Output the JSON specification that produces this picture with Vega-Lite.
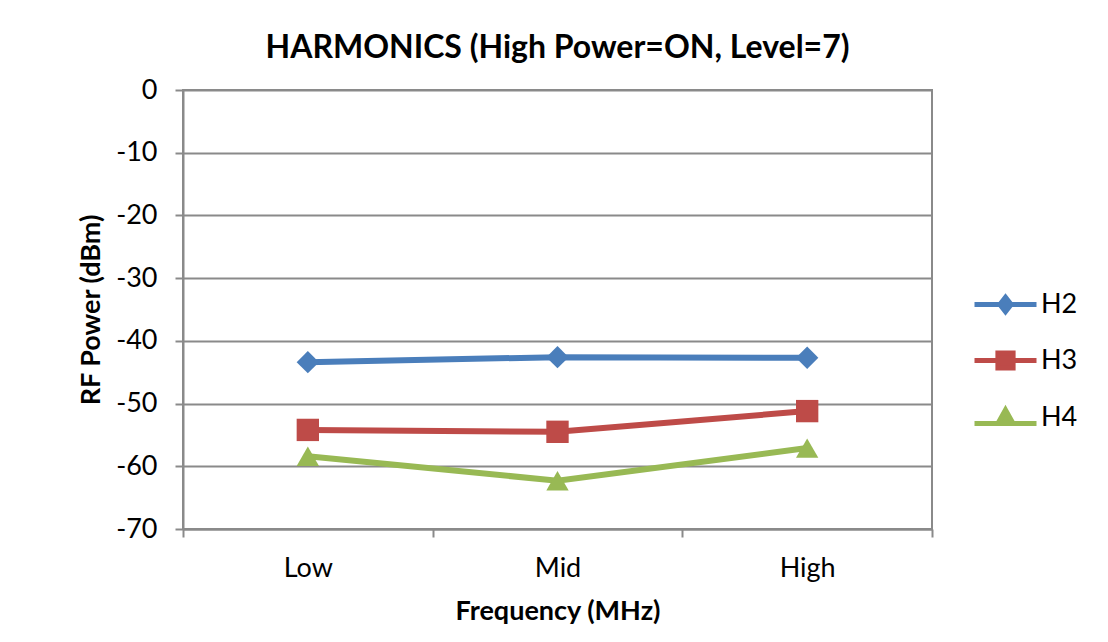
{
  "$schema": "https://vega.github.io/schema/vega-lite/v6.json",
  "width": 749,
  "height": 439,
  "autosize": {"type": "none"},
  "padding": {"left": 183, "top": 90, "right": 176, "bottom": 113},
  "background": "white",
  "title": {
    "text": "HARMONICS (High Power=ON, Level=7)",
    "anchor": "middle",
    "font": "Lato",
    "fontSize": 32,
    "fontWeight": "bold",
    "color": "#000000",
    "offset": 11
  },
  "config": {
    "font": "Lato",
    "view": {"stroke": "#8a8a8a", "strokeWidth": 2},
    "axis": {
      "labelFont": "Lato",
      "labelFontSize": 27,
      "labelColor": "#000000",
      "titleFont": "Lato",
      "titleFontSize": 27,
      "titleFontWeight": "bold",
      "titleColor": "#000000",
      "domainColor": "#8a8a8a",
      "domainWidth": 2,
      "tickColor": "#8a8a8a",
      "tickWidth": 2,
      "tickSize": 8,
      "gridColor": "#8a8a8a",
      "gridWidth": 2
    }
  },
  "data": {
    "values": [
      {"freq": "Low", "series": "H2", "power": -43.4},
      {"freq": "Mid", "series": "H2", "power": -42.6},
      {"freq": "High", "series": "H2", "power": -42.7},
      {"freq": "Low", "series": "H3", "power": -54.2},
      {"freq": "Mid", "series": "H3", "power": -54.5},
      {"freq": "High", "series": "H3", "power": -51.2},
      {"freq": "Low", "series": "H4", "power": -58.4},
      {"freq": "Mid", "series": "H4", "power": -62.3},
      {"freq": "High", "series": "H4", "power": -57.1}
    ]
  },
  "encoding": {
    "x": {
      "field": "freq",
      "type": "nominal",
      "sort": ["Low", "Mid", "High"],
      "bandPosition": 0.5,
      "scale": {"type": "band", "paddingInner": 0, "paddingOuter": 0},
      "axis": {
        "title": "Frequency (MHz)",
        "labelAngle": 0,
        "tickBand": "extent",
        "grid": false,
        "labelPadding": 18,
        "titlePadding": 17
      }
    },
    "y": {
      "field": "power",
      "type": "quantitative",
      "scale": {"domain": [-70, 0], "nice": false, "zero": false},
      "axis": {
        "title": "RF Power (dBm)",
        "values": [-70, -60, -50, -40, -30, -20, -10, 0],
        "labelExpr": "toString(datum.value)",
        "labelPadding": 18,
        "titlePadding": 10,
        "grid": true
      }
    }
  },
  "layer": [
    {
      "mark": {"type": "line", "strokeWidth": 6},
      "encoding": {
        "color": {
          "field": "series",
          "type": "nominal",
          "legend": null,
          "scale": {"domain": ["H2", "H3", "H4"], "range": ["#4A7EBB", "#BE4B48", "#98B954"]}
        }
      }
    },
    {
      "mark": {"type": "point", "filled": true, "opacity": 1, "size": 500},
      "encoding": {
        "color": {"field": "series", "type": "nominal", "legend": null},
        "shape": {
          "field": "series",
          "type": "nominal",
          "legend": null,
          "scale": {"domain": ["H2", "H3", "H4"], "range": ["diamond", "square", "triangle-up"]}
        }
      }
    },
    {
      "transform": [{"filter": "datum.series === 'none'"}],
      "mark": {"type": "point", "filled": true, "opacity": 1, "strokeWidth": 5, "strokeCap": "round"},
      "encoding": {
        "color": {
          "field": "series",
          "type": "nominal",
          "legend": {
            "title": null,
            "orient": "none",
            "legendX": 800,
            "legendY": 192,
            "padding": 0,
            "symbolSize": 1600,
            "symbolStrokeWidth": 5,
            "symbolOpacity": 1,
            "labelFont": "Lato",
            "labelFontSize": 27,
            "labelColor": "#000000",
            "labelOffset": 13,
            "rowPadding": 16
          }
        },
        "stroke": {
          "field": "series",
          "type": "nominal",
          "scale": {"domain": ["H2", "H3", "H4"], "range": ["#4A7EBB", "#BE4B48", "#98B954"]}
        },
        "shape": {
          "field": "series",
          "type": "nominal",
          "scale": {
            "domain": ["H2", "H3", "H4"],
            "range": [
              "M-1.55,0H1.55M0,-0.36L0.28,0L0,0.36L-0.28,0Z",
              "M-1.55,0H1.55M-0.38,-0.38H0.38V0.38H-0.38Z",
              "M0,0.3H-1.55M0,0.3H1.55M0,-0.38L0.38,0.3H-0.38Z"
            ]
          }
        }
      }
    }
  ],
  "resolve": {
    "scale": {"shape": "independent"},
    "legend": {"color": "independent", "shape": "independent", "stroke": "independent"}
  }
}
